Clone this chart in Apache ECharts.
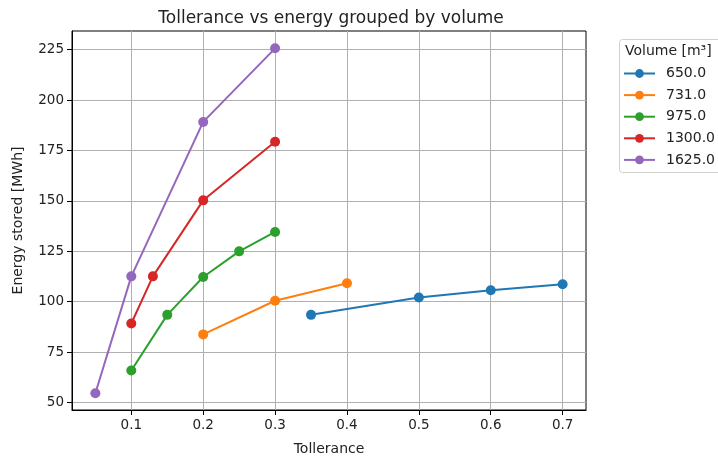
<!DOCTYPE html>
<html>
<head>
<meta charset="utf-8">
<script src="https://cdn.jsdelivr.net/npm/echarts@6/dist/echarts.min.js"></script>
<style>
  html, body { margin: 0; padding: 0; background: #fff; }
  #main { width: 718px; height: 461px; }
</style>
</head>
<body>
<div id="main"></div>
<script>
// data
var volumes = ['650.0', '731.0', '975.0', '1300.0', '1625.0'];
var colors = ['#1f77b4', '#ff7f0e', '#2ca02c', '#d62728', '#9467bd'];

var tol650 = [0.35, 0.5, 0.6, 0.7];
var e650 = [93.5, 102.1, 105.7, 108.7];
var tol731 = [0.2, 0.3, 0.4];
var e731 = [83.8, 100.5, 109.2];
var tol975 = [0.1, 0.15, 0.2, 0.25, 0.3];
var e975 = [65.9, 93.5, 112.3, 125.0, 134.6];
var tol1300 = [0.1, 0.13, 0.2, 0.3];
var e1300 = [89.2, 112.6, 150.3, 179.4];
var tol1625 = [0.05, 0.1, 0.2, 0.3];
var e1625 = [54.6, 112.6, 189.2, 225.7];

var xTicks = [0.1, 0.2, 0.3, 0.4, 0.5, 0.6, 0.7];
var yTicks = [50, 75, 100, 125, 150, 175, 200, 225];

var groups = [[tol650, e650], [tol731, e731], [tol975, e975], [tol1300, e1300], [tol1625, e1625]];

var font = 'DejaVu Sans';
var txt = '#222';

function pairs(xs, ys) {
    var out = [];
    for (var i = 0; i < xs.length; i++) {
        out.push([xs[i], ys[i]]);
    }
    return out;
}

var series = groups.map(function (g, i) {
    return {
        name: volumes[i],
        type: 'line',
        data: pairs(g[0], g[1]),
        symbol: 'circle',
        symbolSize: 10,
        showSymbol: true,
        lineStyle: { width: 2, color: colors[i] },
        itemStyle: { color: colors[i] },
        animation: false
    };
});

var myChart = echarts.init(document.getElementById('main'));
var option = {
    backgroundColor: '#fff',
    textStyle: { fontFamily: font },
    title: {
        text: 'Tollerance vs energy grouped by volume',
        left: 326,
        textAlign: 'center',
        top: 5,
        textStyle: { fontFamily: font, fontSize: 17, fontWeight: 'normal', color: txt }
    },
    grid: {
        left: 72, right: 132, top: 31, bottom: 46.5,
        show: true, borderColor: '#000', borderWidth: 1,
        containLabel: false
    },
    legend: {
        orient: 'vertical',
        left: 623,
        top: 66.5,
        padding: 0,
        itemWidth: 31,
        itemHeight: 11,
        itemGap: 7.6,
        data: volumes,
        textStyle: { fontFamily: font, fontSize: 14, color: txt, padding: [0, 0, 0, 6] }
    },
    graphic: [
        {
            type: 'rect',
            shape: { x: 619.5, y: 39.5, width: 110, height: 133, r: 3 },
            style: { fill: '#fff', stroke: '#d0d0d0', lineWidth: 1 },
            z: -1
        },
        {
            type: 'text',
            x: 625, y: 44,
            style: { text: 'Volume [m³]', font: '14px "DejaVu Sans"', fill: txt }
        }
    ],
    xAxis: {
        type: 'value',
        min: 0.0175,
        max: 0.7325,
        name: 'Tollerance',
        nameLocation: 'middle',
        nameGap: 32,
        nameTextStyle: { fontFamily: font, fontSize: 14, color: txt },
        axisLine: { show: true, lineStyle: { color: '#000', width: 1 } },
        axisTick: { show: true, length: 5, customValues: xTicks, lineStyle: { color: '#000' } },
        axisLabel: {
            customValues: xTicks,
            fontSize: 13.5, color: txt, margin: 8,
            formatter: function (v) { return v.toFixed(1); }
        },
        splitLine: { show: true, lineStyle: { color: '#b0b0b0', width: 1 } }
    },
    yAxis: {
        type: 'value',
        min: 46.3,
        max: 234.3,
        name: 'Energy stored [MWh]',
        nameLocation: 'middle',
        nameGap: 47,
        nameTextStyle: { fontFamily: font, fontSize: 14, color: txt },
        axisLine: { show: true, lineStyle: { color: '#000', width: 1 } },
        axisTick: { show: true, length: 5, customValues: yTicks, lineStyle: { color: '#000' } },
        axisLabel: { customValues: yTicks, fontSize: 13.5, color: txt, margin: 8 },
        splitLine: { show: true, lineStyle: { color: '#b0b0b0', width: 1 } }
    },
    series: series
};
myChart.setOption(option);
</script>
</body>
</html>
